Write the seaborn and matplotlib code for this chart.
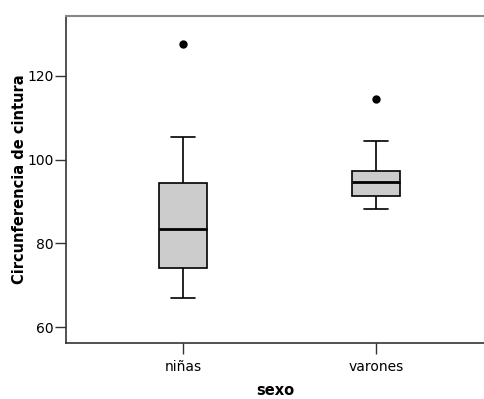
import matplotlib
matplotlib.use("Agg")
import matplotlib.pyplot as plt
import seaborn as sns
import pandas as pd

groups = ["niñas", "varones"]
whisker_low = [66.9, 88.2]
q1 = [74.0, 91.2]
median = [83.4, 94.7]
q3 = [94.3, 97.3]
whisker_high = [105.3, 104.4]
outlier = [127.6, 114.4]

rows = []
for i, g in enumerate(groups):
    vals = [whisker_low[i], q1[i], q1[i], median[i], median[i],
            q3[i], q3[i], whisker_high[i], outlier[i]]
    for v in vals:
        rows.append({"sexo": g, "cintura": v})
df = pd.DataFrame(rows)

sns.set_theme(style="white")
plt.rcParams['font.family'] = ['DejaVu Sans']
plt.rcParams['text.color'] = 'black'
plt.rcParams['axes.labelcolor'] = 'black'
plt.rcParams['xtick.color'] = 'black'
plt.rcParams['ytick.color'] = 'black'

fig = plt.figure(figsize=(4.85, 3.99), dpi=100)
ax = fig.add_axes([66/485, 1-343/399, 1-66/485, (343-16)/399])

sns.boxplot(data=df, x="sexo", y="cintura", order=groups, ax=ax,
            width=0.25, color="#cccccc", saturation=1, linewidth=1.2,
            linecolor="black",
            medianprops={"linewidth": 2.0, "color": "black"},
            flierprops={"marker": "o", "markersize": 5,
                        "markerfacecolor": "black", "markeredgecolor": "black"})

ax.set_xlim(-0.606, 1.565)
ax.set_ylim(56.2, 134.3)
ax.set_yticks([60, 80, 100, 120])
ax.set_xlabel("sexo", fontsize=10.5, fontweight="bold", labelpad=7)
ax.set_ylabel("Circunferencia de cintura", fontsize=10.5, fontweight="bold")
ax.yaxis.set_label_coords(-0.092, 0.5)
ax.tick_params(axis="both", labelsize=10, length=8, width=1, color="#333333", pad=1, left=True, bottom=True)
ax.tick_params(axis="x", pad=4)
for s in ["left", "bottom"]:
    ax.spines[s].set_color("#333333")
    ax.spines[s].set_linewidth(1.2)
ax.spines["top"].set_color("#888888")
ax.spines["top"].set_linewidth(1.5)
ax.spines["right"].set_visible(False)

fig.savefig("out.png", dpi=100)
